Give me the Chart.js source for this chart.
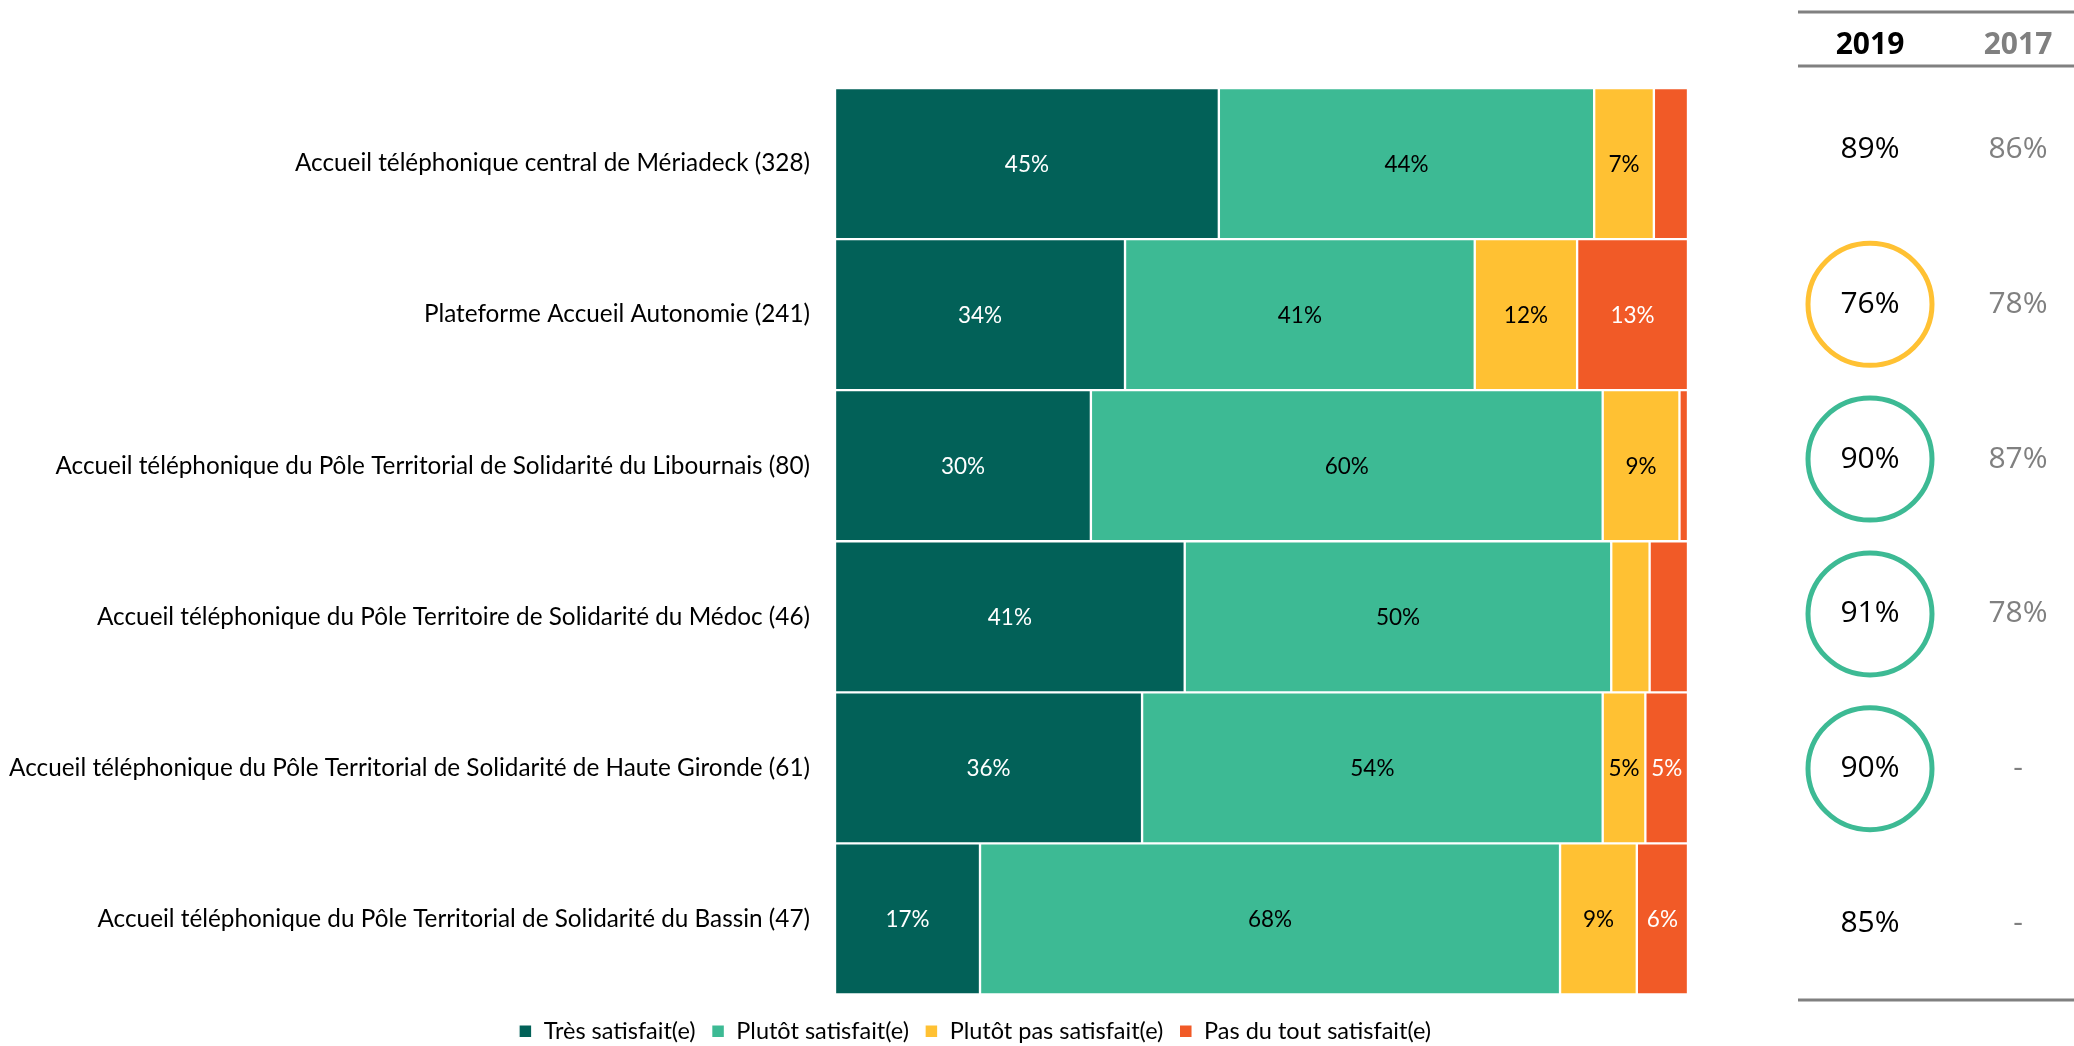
<!DOCTYPE html>
<html>
<head>
<meta charset="utf-8">
<script src="https://cdn.jsdelivr.net/npm/chart.js@4/dist/chart.umd.min.js"></script>
<style>
  html, body { margin: 0; padding: 0; background: #fff; }
  #wrap { position: relative; width: 2074px; height: 1046px; }
</style>
</head>
<body>
<div id="wrap"><canvas id="c" width="2074" height="1046"></canvas></div>
<script>
// ---- data ----
const categories = [
  "Accueil téléphonique central de Mériadeck (328)",
  "Plateforme Accueil Autonomie (241)",
  "Accueil téléphonique du Pôle Territorial de Solidarité du Libournais (80)",
  "Accueil téléphonique du Pôle Territoire de Solidarité du Médoc (46)",
  "Accueil téléphonique du Pôle Territorial de Solidarité de Haute Gironde (61)",
  "Accueil téléphonique du Pôle Territorial de Solidarité du Bassin (47)"
];
const seriesNames = ["Très satisfait(e)", "Plutôt satisfait(e)", "Plutôt pas satisfait(e)", "Pas du tout satisfait(e)"];
const tresSatisfait = [45, 34, 30, 41, 36, 17];
const plutotSatisfait = [44, 41, 60, 50, 54, 68];
const plutotPasSatisfait = [7, 12, 9, 4.5, 5, 9];
const pasDuToutSatisfait = [4, 13, 1, 4.5, 5, 6];
const tableHeaders = ["2019", "2017"];
const score2019 = [89, 76, 90, 91, 90, 85];
const score2017 = [86, 78, 87, 78, null, null];
const evolution = [null, "down", "up", "up", "up", null];

// ---- styles ----
const COLORS = ["#026158", "#3DBA94", "#FFC133", "#F15A27"];
const LABEL_COLORS = ["#ffffff", "#000000", "#000000", "#ffffff"];
const FONT = "Lato";

const barLabels = {
  id: "barLabels",
  afterDatasetsDraw(chart) {
    const ctx = chart.ctx;
    ctx.save();
    ctx.font = "22.5px " + FONT;
    ctx.textAlign = "center";
    ctx.textBaseline = "middle";
    chart.data.datasets.forEach((ds, di) => {
      const meta = chart.getDatasetMeta(di);
      meta.data.forEach((el, i) => {
        const v = ds.data[i];
        if (v < 5) return;
        ctx.fillStyle = LABEL_COLORS[di];
        ctx.fillText(Math.round(v) + "%", (el.x + el.base) / 2, el.y + 1);
      });
    });
    ctx.restore();
  }
};

const sideTable = {
  id: "sideTable",
  afterDraw(chart) {
    const ctx = chart.ctx;
    const x2019 = 1870, x2017 = 2018;
    const rowTop = 149.5, rowStep = 154.8;
    ctx.save();
    // rules
    ctx.strokeStyle = "#808080";
    ctx.lineWidth = 3;
    [12, 66, 1000].forEach(ly => {
      ctx.beginPath(); ctx.moveTo(1798, ly); ctx.lineTo(2074, ly); ctx.stroke();
    });
    // headers
    ctx.textAlign = "center";
    ctx.textBaseline = "middle";
    ctx.font = "bold 30px 'Open Sans'";
    ctx.fillStyle = "#000";
    ctx.fillText(tableHeaders[0], x2019, 45);
    ctx.fillStyle = "#808080";
    ctx.fillText(tableHeaders[1], x2017, 45);
    // rows
    categories.forEach((c, i) => {
      const cy = rowTop + i * rowStep;
      if (evolution[i]) {
        ctx.strokeStyle = evolution[i] === "down" ? COLORS[2] : COLORS[1];
        ctx.lineWidth = 5;
        ctx.beginPath();
        ctx.ellipse(x2019, cy, 62, 61, 0, 0, Math.PI * 2);
        ctx.stroke();
      }
      ctx.font = "30px 'Open Sans'";
      ctx.fillStyle = "#000";
      ctx.fillText(score2019[i] + "%", x2019, cy);
      ctx.fillStyle = "#808080";
      ctx.fillText(score2017[i] == null ? "-" : score2017[i] + "%", x2017, cy);
    });
    ctx.restore();
  }
};

const legendShift = {
  id: "legendShift",
  afterLayout(chart) {
    const l = chart.legend;
    const w = l.right - l.left;
    const center = 975;
    l.left = center - w / 2;
    l.right = center + w / 2;
    l.top += 9;
    l.bottom += 9;
  }
};

const datasetsArr = [tresSatisfait, plutotSatisfait, plutotPasSatisfait, pasDuToutSatisfait].map((d, i) => ({
  label: seriesNames[i],
  data: d,
  backgroundColor: COLORS[i],
  borderColor: "#ffffff",
  borderWidth: 1.5,
  borderSkipped: false,
  barPercentage: 1,
  categoryPercentage: 1
}));

new Chart(document.getElementById("c"), {
  type: "bar",
  data: { labels: categories, datasets: datasetsArr },
  options: {
    indexAxis: "y",
    responsive: false,
    animation: false,
    layout: { padding: { top: 88, right: 386, bottom: 2, left: 0 } },
    scales: {
      x: { stacked: true, min: 0, max: 100, display: false },
      y: {
        stacked: true,
        grid: { display: false },
        border: { display: false },
        ticks: { color: "#000", font: { family: FONT, size: 24.3 }, padding: 17 },
        afterFit(s) { s.width = 835; }
      }
    },
    plugins: {
      tooltip: { enabled: false },
      legend: {
        position: "bottom",
        labels: {
          color: "#000",
          font: { family: FONT, size: 23.5 },
          boxWidth: 13, boxHeight: 13, padding: 16
        }
      }
    }
  },
  plugins: [barLabels, sideTable, legendShift]
});
</script>
</body>
</html>
